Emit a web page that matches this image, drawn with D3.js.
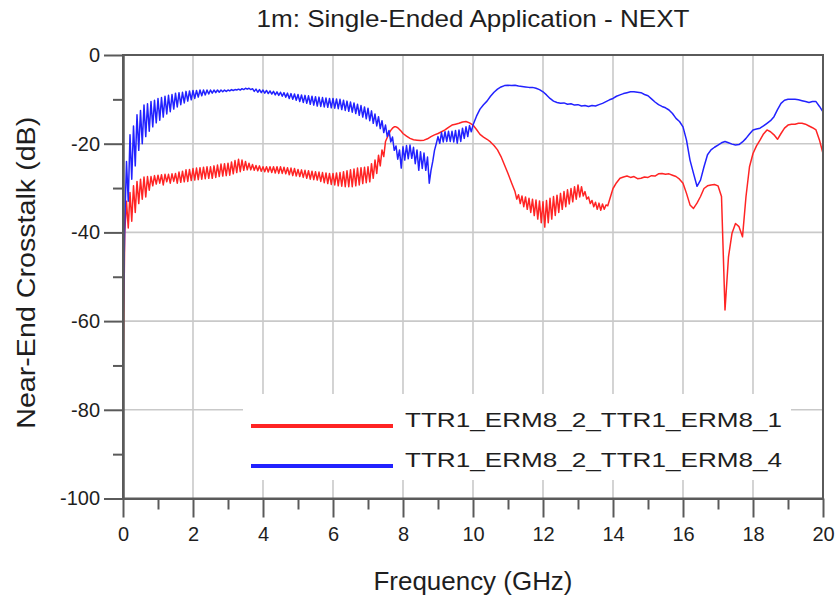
<!DOCTYPE html>
<html><head><meta charset="utf-8">
<script src="https://cdn.jsdelivr.net/npm/d3@7"></script>
<style>html,body{margin:0;padding:0;background:#fff}svg{display:block}</style>
</head><body><svg id="c" width="839" height="598"></svg>
<script>
const chartTitle = "1m: Single-Ended Application - NEXT";
const xTitle = "Frequency (GHz)";
const yTitle = "Near-End Crosstalk (dB)";
const seriesNames = ["TTR1_ERM8_2_TTR1_ERM8_1", "TTR1_ERM8_2_TTR1_ERM8_4"];
const seriesColors = ["#ff2424", "#2222ff"];
const xTicks = [0, 2, 4, 6, 8, 10, 12, 14, 16, 18, 20];
const xMinor = [1, 3, 5, 7, 9, 11, 13, 15, 17, 19];
const yTicks = [0, -20, -40, -60, -80, -100];
const yMinor = [-10, -30, -50, -70, -90];

// Blue series (…_4): 0 – 10 GHz, step 0.05 GHz
const blueA = [
 -62, -38, -24, -33, -18, -28, -16, -25, -13.5, -21.5,
 -12.5, -20, -11.3, -18.4, -11, -17.2, -10.5, -16.2, -10.2, -15.3,
 -9.8, -14.7, -9.6, -14, -9.3, -13.3, -9.1, -12.8, -8.9, -12.2,
 -8.6, -11.7, -8.5, -11.2, -8.4, -10.8, -8.2, -10.4, -8.1, -10.1,
 -8.0, -9.8, -8.0, -9.5, -7.9, -9.2, -7.9, -9.0, -7.9, -8.8,
 -7.9, -8.6, -7.9, -8.5, -7.9, -8.4, -7.9, -8.3, -7.9, -8.2,
 -7.9, -8.1, -7.8, -8.0, -7.8, -7.9, -7.7, -7.9, -7.6, -7.8,
 -7.5, -7.7, -7.5, -7.8, -7.6, -8.2, -7.7, -8.4, -7.8, -8.5,
 -7.9, -8.6, -8.0, -8.7, -8.1, -8.8, -8.2, -9.0, -8.3, -9.1,
 -8.4, -9.3, -8.5, -9.5, -8.6, -9.8, -8.7, -10.0, -8.8, -10.2,
 -8.9, -10.5, -9.0, -10.7, -9.1, -10.9, -9.2, -11.1, -9.3, -11.3,
 -9.4, -11.5, -9.5, -11.6, -9.6, -11.7, -9.7, -11.8, -9.8, -11.9,
 -9.8, -12.0, -9.9, -12.1, -10.0, -12.3, -10.2, -12.5, -10.4, -12.7,
 -10.6, -12.9, -10.8, -13.2, -11.1, -13.6, -11.4, -14.0, -11.7, -14.4,
 -12.0, -14.8, -12.6, -15.4, -13.3, -16.0, -13.9, -16.6, -14.8, -17.5,
 -15.8, -18.4, -17.0, -19.6, -18.5, -21.5, -20.5, -23.5, -21.4, -25.5,
 -20.7, -23.7, -20.4, -23.4, -20.3, -23.3, -20.8, -24.5, -21.4, -26.0,
 -21.8, -25.6, -22.1, -26.0, -23.0, -28.9, -26.0, -24.0, -21.5, -20.0,
 -18.4, -19.9, -17.5, -19.6, -17.3, -19.5, -17.2, -19.5, -17.2, -19.6,
 -17.0, -19.9, -16.9, -19.5, -16.5, -18.8, -16.2, -18.4, -15.9, -17.3,
 -15.8
];
// Blue series: 10.1 – 20 GHz, step 0.1 GHz
const blueB = [
 -13.8, -12.2, -11.2, -10.4, -9.3, -8.4, -7.7, -7.2, -6.9,
 -6.8, -6.9, -6.8, -7.0, -7.1, -7.2, -7.3, -7.3, -7.5, -7.8,
 -8.3, -9.0, -9.8, -10.4, -10.7, -10.9, -10.8, -11.1, -11.0, -11.3,
 -11.2, -11.5, -11.4, -11.6, -11.4, -11.5, -11.2, -10.9, -10.5, -10.1,
 -9.8, -9.3, -9.0, -8.7, -8.5, -8.3, -8.3, -8.4, -8.5, -8.9,
 -9.2, -9.9, -10.6, -11.2, -11.6, -11.9, -12.4, -13.2, -14.3, -15.0,
 -16.2, -19.2, -23.7, -26.7, -29.6, -28.2, -25.2, -22.5, -21.4, -20.8,
 -20.3, -19.8, -19.5, -19.8, -20.1, -20.3, -20.2, -19.6, -18.8, -17.8,
 -16.9, -16.7, -16.5, -16.0, -15.4, -14.8, -13.9, -12.3, -10.9, -10.2,
 -10.0, -10.0, -10.0, -10.1, -10.3, -10.5, -10.7, -10.5, -10.5, -11.6,
 -12.8
];

// Red series (…_1): 0 – 8 GHz, step 0.05 GHz
const redA = [
 -75, -40, -33, -39, -31, -37.5, -29.5, -35.5, -28.5, -33.5,
 -28, -32.5, -27.5, -32, -27.4, -30.5, -27.4, -29.5, -27.2, -29.1,
 -27.1, -28.9, -27.0, -29.3, -26.9, -28.6, -26.9, -28.9, -26.8, -28.5,
 -26.7, -28.9, -26.4, -28.7, -26.2, -28.6, -25.9, -28.5, -25.8, -28.3,
 -25.6, -28.2, -25.5, -28.1, -25.4, -28.0, -25.3, -27.9, -25.2, -27.8,
 -25.2, -27.8, -25.0, -27.6, -24.8, -27.4, -24.6, -27.3, -24.5, -27.2,
 -24.4, -27.1, -24.1, -26.8, -23.8, -26.5, -23.5, -26.3, -23.7, -26.0,
 -24.0, -25.9, -24.4, -25.9, -24.7, -26.0, -24.9, -26.1, -25.0, -26.2,
 -25.2, -26.3, -25.2, -26.4, -25.2, -26.5, -25.2, -26.6, -25.2, -26.7,
 -25.2, -26.7, -25.3, -26.8, -25.4, -27.0, -25.5, -27.2, -25.6, -27.3,
 -25.8, -27.4, -25.9, -27.6, -26.0, -27.8, -26.1, -28.0, -26.2, -28.1,
 -26.3, -28.2, -26.4, -28.5, -26.5, -28.8, -26.6, -29.0, -26.7, -29.2,
 -26.7, -29.3, -26.6, -29.5, -26.5, -29.6, -26.3, -29.7, -26.1, -29.7,
 -25.9, -29.7, -25.7, -29.5, -25.5, -29.3, -25.4, -29.0, -25.3, -28.8,
 -25.2, -28.6, -24.5, -27.8, -23.7, -26.7, -22.6, -25.0, -21.4, -22.9,
 -19.5, -18.6, -17.7, -17.0, -16.5, -16.2, -16.2, -16.4, -16.8, -17.2,
 -17.7
];
// Red series: 8.1 – 11.2 GHz, step 0.1 GHz
const redB = [
 -18.3, -18.8, -19.1, -19.2, -19.3, -19.2, -18.9, -18.4, -18.0,
 -17.7, -17.3, -16.9, -16.3, -15.8, -15.6, -15.4, -15.1, -15.0, -15.3,
 -15.8, -16.8, -17.9, -18.5, -19.0, -19.6, -20.4, -21.4, -22.9, -24.8,
 -26.7, -28.8, -30.8
];
// Red series: 11.25 – 14 GHz, step 0.05 GHz
const redC = [
 -32.5, -31.5, -33.5, -31.8, -34.2, -32.0, -34.8, -32.3, -35.5, -32.5, -36.2, -32.7, -37.0, -32.9, -37.8,
 -33.1, -38.8, -32.8, -37.8, -32.3, -37.0, -31.9, -36.2, -31.6, -35.5,
 -31.2, -34.8, -30.8, -34.2, -30.4, -33.6, -30.1, -33.1, -29.7, -32.5,
 -29.3, -32.0, -29.7, -31.8, -30.8, -32.5, -32.0, -33.5, -32.8, -34.2,
 -33.2, -34.8, -33.4, -35.0, -33.6, -34.8, -33.8, -34.0, -32.7, -31.4,
 -30.1
];
// Red series: 14.1 – 20 GHz, step 0.1 GHz
const redD = [
 -28.8, -27.8, -27.5, -27.3, -27.6, -27.4, -27.9, -27.8, -27.5,
 -27.6, -27.2, -27.3, -26.8, -26.7, -26.9, -26.8, -27.1, -27.4, -28.0,
 -28.9, -31.2, -33.8, -34.6, -33.4, -31.9, -30.1, -29.5, -29.3, -29.2,
 -29.5, -31.9, -57.5, -45.5, -40.2, -38.0, -38.7, -41.0, -31.9, -25.2,
 -22.2, -20.5, -19.2, -17.8, -16.9, -17.3, -18.0, -19.0, -17.7, -16.5,
 -15.8, -15.6, -15.6, -15.4, -15.4, -15.6, -16.0, -16.4, -16.9, -19.2,
 -22.2
];

function seg(start, step, vals) {
  return vals.map((v, i) => [Math.round((start + i * step) * 1000) / 1000, v]);
}
const redData = [].concat(seg(0, 0.05, redA), seg(8.1, 0.1, redB), seg(11.25, 0.05, redC), seg(14.1, 0.1, redD));
const blueData = [].concat(seg(0, 0.05, blueA), seg(10.1, 0.1, blueB));
const allSeries = [redData, blueData];

const FONT = "'Liberation Sans', Arial, Helvetica, sans-serif";
const TXT = "#1e1e1e";
const AX = "#5a5a5a";
const GRID = "#c9c9c9";

const L = 123, R = 823, T = 55, B = 498.5;
const x = d3.scaleLinear().domain([0, 20]).range([L, R]);
const y = d3.scaleLinear().domain([-100, 0]).range([B, T]);

const svg = d3.select("#c");
svg.append("rect").attr("width", 839).attr("height", 598).attr("fill", "#fff");

// grid
const grid = svg.append("g");
grid.selectAll("line.v").data(xTicks.slice(1, -1)).enter().append("line")
  .attr("x1", d => x(d)).attr("x2", d => x(d)).attr("y1", T).attr("y2", B)
  .attr("stroke", GRID).attr("stroke-width", 1.6);
grid.selectAll("line.h").data(yTicks.slice(1, -1)).enter().append("line")
  .attr("y1", d => y(d)).attr("y2", d => y(d)).attr("x1", L).attr("x2", R)
  .attr("stroke", GRID).attr("stroke-width", 1.6);

// series
const line = d3.line().x(d => x(d[0])).y(d => y(d[1]));
svg.append("defs").append("clipPath").attr("id", "clip")
  .append("rect").attr("x", L).attr("y", T).attr("width", R - L).attr("height", B - T);
svg.append("g").attr("clip-path", "url(#clip)").selectAll("path").data(allSeries).enter().append("path")
  .attr("d", line).attr("fill", "none")
  .attr("stroke", (d, i) => seriesColors[i]).attr("stroke-width", 1.5)
  .attr("stroke-linejoin", "round");

// legend
const lg = svg.append("g");
lg.append("rect").attr("x", 243).attr("y", 394).attr("width", 548).attr("height", 86).attr("fill", "#fff");
const legY = [426, 466];
seriesNames.forEach((name, i) => {
  lg.append("line").attr("x1", 251).attr("x2", 393).attr("y1", legY[i]).attr("y2", legY[i])
    .attr("stroke", seriesColors[i]).attr("stroke-width", 4);
  lg.append("text").attr("x", 405).attr("y", legY[i] + 1).text(name)
    .attr("font-family", FONT).attr("font-size", 21).attr("fill", TXT)
    .attr("textLength", 377).attr("lengthAdjust", "spacingAndGlyphs");
});

// frame
svg.append("rect").attr("x", L).attr("y", T).attr("width", R - L).attr("height", B - T)
  .attr("fill", "none").attr("stroke", AX).attr("stroke-width", 2);

// axes
const fmt = d => String(d);
function styleAxis(g) {
  g.selectAll("path.domain").attr("stroke", AX).attr("stroke-width", 2);
  g.selectAll(".tick line").attr("stroke", AX).attr("stroke-width", 2);
  g.selectAll(".tick text").attr("fill", TXT).attr("font-family", FONT).attr("font-size", 20);
}
svg.append("g").attr("transform", `translate(${L},0)`)
  .call(d3.axisLeft(y).tickValues(yTicks).tickSize(19).tickSizeOuter(0).tickPadding(4).tickFormat(fmt))
  .call(styleAxis);
svg.append("g").attr("transform", `translate(${L},0)`)
  .call(d3.axisLeft(y).tickValues(yMinor).tickSize(10).tickSizeOuter(0).tickFormat(""))
  .call(styleAxis);
svg.append("g").attr("transform", `translate(0,${B})`)
  .call(d3.axisBottom(x).tickValues(xTicks).tickSize(19).tickSizeOuter(0).tickPadding(9).tickFormat(fmt))
  .call(styleAxis);
svg.append("g").attr("transform", `translate(0,${B})`)
  .call(d3.axisBottom(x).tickValues(xMinor).tickSize(11).tickSizeOuter(0).tickFormat(""))
  .call(styleAxis);

// titles
svg.append("text").attr("x", (L + R) / 2).attr("y", 27).attr("text-anchor", "middle")
  .attr("font-family", FONT).attr("font-size", 24).attr("fill", TXT)
  .attr("textLength", 433).attr("lengthAdjust", "spacingAndGlyphs").text(chartTitle);
svg.append("text").attr("x", (L + R) / 2).attr("y", 590).attr("text-anchor", "middle")
  .attr("font-family", FONT).attr("font-size", 26).attr("fill", TXT)
  .attr("textLength", 199).attr("lengthAdjust", "spacingAndGlyphs").text(xTitle);
svg.append("text").attr("transform", `translate(35,${(T + B) / 2 - 4}) rotate(-90)`).attr("text-anchor", "middle")
  .attr("font-family", FONT).attr("font-size", 26).attr("fill", TXT)
  .attr("textLength", 312).attr("lengthAdjust", "spacingAndGlyphs").text(yTitle);
</script>
</body></html>
